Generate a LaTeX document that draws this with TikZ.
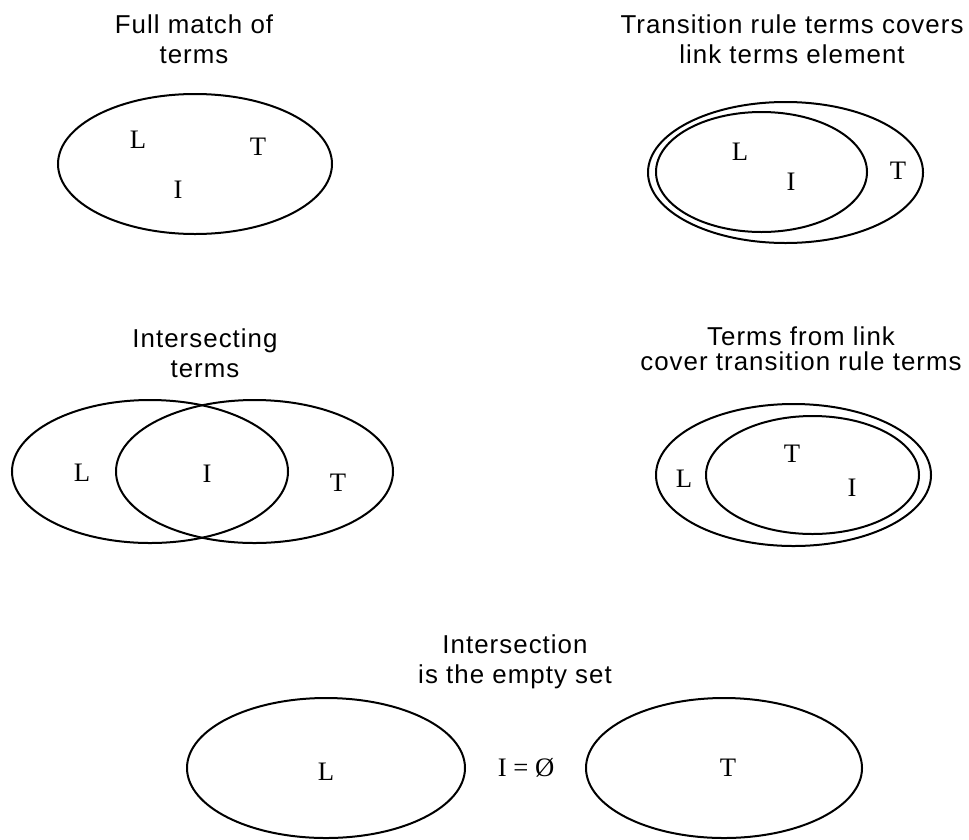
\documentclass[tikz,border=0pt]{standalone}
\usepackage{fontspec}
\setmainfont{Liberation Serif}
\newfontfamily\headfont[LetterSpace=4]{Liberation Sans}
\usepackage{tikz}

\tikzset{
  setline/.style={line width=1.5pt},
  head/.style={font=\headfont\fontsize{19.4}{22.5}\selectfont, align=center, anchor=base, inner sep=0pt},
  elem/.style={font=\fontsize{20}{24}\selectfont, inner sep=0pt},
}

\begin{document}
\begin{tikzpicture}[x=0.75pt, y=-0.75pt]
        \useasboundingbox (0,0) rectangle (969,839);
        % full match
        \node[head] (fulltitle) at (194,63) {Full match of\\terms};
        \draw[setline] (195,164) ellipse [x radius=137, y radius=70];
        \node[elem] (fullL) at (138,140) {L};
        \node[elem] (fullT) at (258,147) {T};
        \node[elem] (fullI) at (178,190) {I};
        % T covers L
        \node[head] (covtitle) at (792,63) {Transition rule terms covers\\link terms element};
        \draw[setline] (785.5,172.5) ellipse [x radius=137.5, y radius=70.5];
        \draw[setline] (761.5,172) ellipse [x radius=105.5, y radius=60];
        \node[elem] (covL) at (740,152) {L};
        \node[elem] (covI) at (791,182) {I};
        \node[elem] (covT) at (898,171) {T};
        % intersecting
        \node[head] (intitle) at (205,377) {Intersecting\\terms};
        \draw[setline] (150,471.5) ellipse [x radius=138, y radius=71.5];
        \draw[setline] (254.5,471.5) ellipse [x radius=138.5, y radius=71.5];
        \node[elem] (inL) at (82,473) {L};
        \node[elem] (inI) at (207,474) {I};
        \node[elem] (inT) at (338,483) {T};
        % L covers T
        \node[head, font=\headfont\fontsize{19.4}{18.5}\selectfont] (lnktitle) at (801,370) {Terms from link\\cover transition rule terms};
        \draw[setline] (793.5,475) ellipse [x radius=137.5, y radius=71];
        \draw[setline] (812.5,475) ellipse [x radius=106.5, y radius=59];
        \node[elem] (lnkT) at (792,454) {T};
        \node[elem] (lnkL) at (684,479) {L};
        \node[elem] (lnkI) at (852,488) {I};
        % empty intersection
        \node[head] (emptitle) at (515,683) {Intersection\\is the empty set};
        \draw[setline] (326,768) ellipse [x radius=139, y radius=70];
        \draw[setline] (724,768) ellipse [x radius=138, y radius=70];
        \node[elem] (empL) at (326,772) {L};
        \node[elem] (empI) at (526,768) {I = Ø};
        \node[elem] (empT) at (728,768) {T};
    \end{tikzpicture}
\end{document}
